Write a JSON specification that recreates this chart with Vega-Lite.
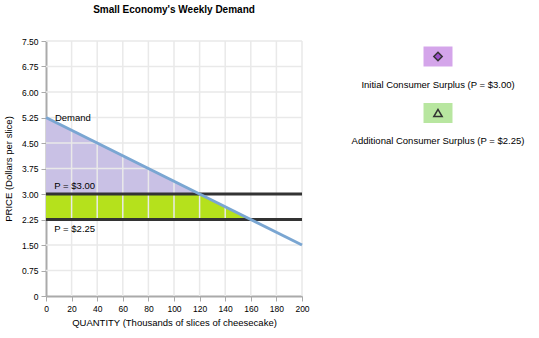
{
  "$schema": "https://vega.github.io/schema/vega-lite/v6.json",
  "config": {
    "view": {"stroke": null},
    "font": "Liberation Sans",
    "axis": {"grid": false, "domainColor": "#aaaaaa", "domainWidth": 2, "tickColor": "#aaaaaa", "tickSize": 5, "labelFontSize": 8.5, "labelColor": "#000", "titleFontSize": 9.5, "titleFontWeight": "normal", "titleColor": "#000", "labelPadding": 3, "labelOverlap": false, "labelFlush": false}
  },
  "padding": {"left": 3, "top": 5, "right": 5, "bottom": 5},
  "spacing": 28,
  "hconcat": [
    {
      "width": 256,
      "height": 255,
      "title": {"text": "Small Economy's Weekly Demand", "fontSize": 10, "fontWeight": "bold", "anchor": "middle", "offset": 22, "color": "#000"},
      "layer": [
        {
          "data": {"values": [{"q": 0, "p": 5.25, "p2": 3}, {"q": 120, "p": 3, "p2": 3}]},
          "mark": {"type": "area", "color": "#c9c1e5", "opacity": 1},
          "encoding": {
            "x": {"field": "q", "type": "quantitative", "scale": {"domain": [0, 200], "nice": false},
              "axis": {"title": "QUANTITY (Thousands of slices of cheesecake)", "values": [0, 20, 40, 60, 80, 100, 120, 140, 160, 180, 200], "labelOverlap": false, "tickCount": 11, "titlePadding": 5}},
            "y": {"field": "p", "type": "quantitative", "scale": {"domain": [0, 7.5], "nice": false},
              "axis": {"title": "PRICE (Dollars per slice)", "values": [0, 0.75, 1.5, 2.25, 3, 3.75, 4.5, 5.25, 6, 6.75, 7.5], "labelOverlap": false, "tickCount": 11, "labelExpr": "datum.value == 0 ? '0' : format(datum.value, '.2f')", "titlePadding": 8}},
            "y2": {"field": "p2"}
          }
        },
        {
          "data": {"values": [{"q": 0, "p": 3, "p2": 2.25}, {"q": 120, "p": 3, "p2": 2.25}, {"q": 160, "p": 2.25, "p2": 2.25}]},
          "mark": {"type": "area", "color": "#b5e11c", "opacity": 1},
          "encoding": {
            "x": {"field": "q", "type": "quantitative"},
            "y": {"field": "p", "type": "quantitative"},
            "y2": {"field": "p2"}
          }
        },
        {
          "data": {"values": [{"q": 20}, {"q": 40}, {"q": 60}, {"q": 80}, {"q": 100}, {"q": 120}, {"q": 140}, {"q": 160}, {"q": 180}, {"q": 200}]},
          "mark": {"type": "rule", "color": "#e9e9e9", "strokeWidth": 1.5},
          "encoding": {"x": {"field": "q", "type": "quantitative"}}
        },
        {
          "data": {"values": [{"p": 0.75}, {"p": 1.5}, {"p": 2.25}, {"p": 3}, {"p": 3.75}, {"p": 4.5}, {"p": 5.25}, {"p": 6}, {"p": 6.75}, {"p": 7.5}]},
          "mark": {"type": "rule", "color": "#e9e9e9", "strokeWidth": 1.5},
          "encoding": {"y": {"field": "p", "type": "quantitative"}}
        },
        {
          "data": {"values": [{"p": 3}, {"p": 2.25}]},
          "mark": {"type": "rule", "color": "#333333", "strokeWidth": 3},
          "encoding": {"y": {"field": "p", "type": "quantitative"}}
        },
        {
          "data": {"values": [{"q": 0, "p": 5.25}, {"q": 200, "p": 1.5}]},
          "mark": {"type": "line", "color": "#7aa6d2", "strokeWidth": 3},
          "encoding": {
            "x": {"field": "q", "type": "quantitative"},
            "y": {"field": "p", "type": "quantitative"}
          }
        },
        {
          "data": {"values": [{"q": 7, "p": 5.25, "label": "Demand"}]},
          "mark": {"type": "text", "align": "left", "baseline": "middle", "fontSize": 9.5, "color": "#000"},
          "encoding": {
            "x": {"field": "q", "type": "quantitative"},
            "y": {"field": "p", "type": "quantitative"},
            "text": {"field": "label"}
          }
        },
        {
          "data": {"values": [{"q": 6.5, "p": 3, "label": "P = $3.00"}]},
          "mark": {"type": "text", "align": "left", "baseline": "middle", "fontSize": 9.5, "color": "#000", "dy": -8},
          "encoding": {
            "x": {"field": "q", "type": "quantitative"},
            "y": {"field": "p", "type": "quantitative"},
            "text": {"field": "label"}
          }
        },
        {
          "data": {"values": [{"q": 6.5, "p": 2.25, "label": "P = $2.25"}]},
          "mark": {"type": "text", "align": "left", "baseline": "middle", "fontSize": 9.5, "color": "#000", "dy": 9},
          "encoding": {
            "x": {"field": "q", "type": "quantitative"},
            "y": {"field": "p", "type": "quantitative"},
            "text": {"field": "label"}
          }
        }
      ]
    },
    {
      "width": 200,
      "height": 255,
      "data": {"values": [{"series": "Initial Consumer Surplus (P = $3.00)"}, {"series": "Additional Consumer Surplus (P = $2.25)"}]},
      "encoding": {
        "y": {"field": "series", "type": "nominal", "scale": {"type": "point", "padding": 0, "domain": ["Initial Consumer Surplus (P = $3.00)", "Additional Consumer Surplus (P = $2.25)"], "range": [15.5, 72]}, "axis": null}
      },
      "layer": [
        {
          "mark": {"type": "point", "shape": "M-1.45,-1H1.45V1H-1.45Z", "size": 400, "filled": true, "opacity": 1, "strokeWidth": 0},
          "encoding": {"fill": {"field": "series", "type": "nominal", "scale": {"domain": ["Initial Consumer Surplus (P = $3.00)", "Additional Consumer Surplus (P = $2.25)"], "range": ["#d4a5ea", "#b8e6a0"]}, "legend": null}}
        },
        {
          "mark": {"type": "point", "filled": true, "opacity": 1, "stroke": "#333333", "strokeWidth": 1.5, "size": 70},
          "encoding": {
            "shape": {"field": "series", "type": "nominal", "scale": {"domain": ["Initial Consumer Surplus (P = $3.00)", "Additional Consumer Surplus (P = $2.25)"], "range": ["diamond", "triangle-up"]}, "legend": null},
            "fill": {"field": "series", "type": "nominal", "scale": {"domain": ["Initial Consumer Surplus (P = $3.00)", "Additional Consumer Surplus (P = $2.25)"], "range": ["#9b4fc8", "#b8e6a0"]}, "legend": null}
          }
        },
        {
          "mark": {"type": "text", "dy": 28, "fontSize": 9.5, "color": "#000"},
          "encoding": {"text": {"field": "series"}}
        }
      ],
      "resolve": {"scale": {"fill": "independent"}}
    }
  ]
}
